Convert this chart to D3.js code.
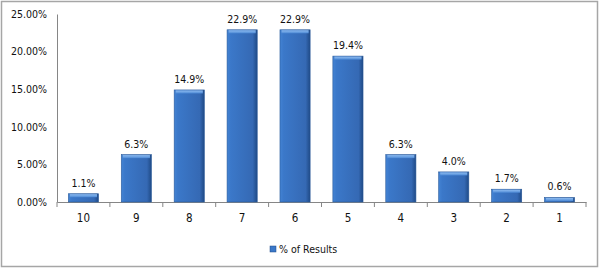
<!DOCTYPE html>
<html>
<head>
<meta charset="utf-8">
<script src="https://cdn.jsdelivr.net/npm/d3@7"></script>
<style>
  body { margin: 0; background: #fff; }
  text { font-family: "DejaVu Sans Condensed", "DejaVu Sans", sans-serif; fill: #111; }
</style>
</head>
<body>
<div id="chart"></div>
<script>
// Data
var categories = ["10", "9", "8", "7", "6", "5", "4", "3", "2", "1"];
var results = [1.1, 6.3, 14.9, 22.9, 22.9, 19.4, 6.3, 4.0, 1.7, 0.6];
var yTicks = [0, 5, 10, 15, 20, 25];
var seriesName = "% of Results";

var svgWidth = 600;
var svgHeight = 269;
var margin = { top: 14, right: 14, bottom: 67, left: 57 };
var chartWidth = svgWidth - margin.left - margin.right;
var chartHeight = svgHeight - margin.top - margin.bottom;

var svg = d3.select("#chart").append("svg")
  .attr("width", svgWidth)
  .attr("height", svgHeight);

// outer frame
svg.append("rect")
  .attr("x", 1.5).attr("y", 1.5)
  .attr("width", svgWidth - 4).attr("height", svgHeight - 4)
  .attr("fill", "none").attr("stroke", "#a6a6a6").attr("stroke-width", 1.5);

var defs = svg.append("defs");
var grad = defs.append("linearGradient").attr("id", "barGrad")
  .attr("x1", "0").attr("x2", "1").attr("y1", "0").attr("y2", "0");
grad.append("stop").attr("offset", "0%").attr("stop-color", "#4383d3");
grad.append("stop").attr("offset", "12%").attr("stop-color", "#3b78c9");
grad.append("stop").attr("offset", "85%").attr("stop-color", "#3569b4");
grad.append("stop").attr("offset", "100%").attr("stop-color", "#1f4a86");

var topGrad = defs.append("linearGradient").attr("id", "topGrad")
  .attr("x1", "0").attr("x2", "0").attr("y1", "0").attr("y2", "1");
topGrad.append("stop").attr("offset", "0%").attr("stop-color", "#8fbcf0");
topGrad.append("stop").attr("offset", "100%").attr("stop-color", "#4d8ad6");

var chartGroup = svg.append("g")
  .attr("transform", `translate(${margin.left}, ${margin.top})`);

var xScale = d3.scaleBand()
  .domain(categories)
  .range([0, chartWidth])
  .paddingInner(0.43)
  .paddingOuter(0.215);

var yScale = d3.scaleLinear()
  .domain([0, 25])
  .range([chartHeight, 0]);

// y axis
var yAxis = chartGroup.append("g")
  .call(d3.axisLeft(yScale).tickValues(yTicks).tickSize(0).tickPadding(10)
    .tickFormat(d => d.toFixed(2) + "%"));
yAxis.select(".domain").attr("stroke", "#868686");
yAxis.selectAll("text").attr("font-size", "10.5px");

// x axis
var xAxis = chartGroup.append("g")
  .attr("transform", `translate(0, ${chartHeight})`)
  .call(d3.axisBottom(xScale).tickSize(0).tickPadding(12));
xAxis.select(".domain").attr("stroke", "#868686");
xAxis.selectAll("text").attr("font-size", "11.5px");

// tick marks between categories
var step = xScale.step();
chartGroup.append("g").selectAll("line")
  .data(d3.range(categories.length + 1))
  .enter().append("line")
  .attr("x1", d => d * step).attr("x2", d => d * step)
  .attr("y1", chartHeight).attr("y2", chartHeight + 5)
  .attr("stroke", "#868686");

// bars
var bars = chartGroup.selectAll(".bar")
  .data(results)
  .enter().append("g")
  .attr("class", "bar");

bars.append("rect")
  .attr("x", (d, i) => xScale(categories[i]))
  .attr("y", d => yScale(d))
  .attr("width", xScale.bandwidth())
  .attr("height", d => chartHeight - yScale(d))
  .attr("fill", "url(#barGrad)")
  .attr("stroke", "#2a5a9a")
  .attr("stroke-width", 0.6);

bars.append("rect")
  .attr("x", (d, i) => xScale(categories[i]) + 1.5)
  .attr("y", d => yScale(d) + 0.5)
  .attr("width", xScale.bandwidth() - 3)
  .attr("height", d => Math.min(3, chartHeight - yScale(d) - 1))
  .attr("fill", "url(#topGrad)");

// value labels
chartGroup.selectAll(".label")
  .data(results)
  .enter().append("text")
  .attr("class", "label")
  .attr("x", (d, i) => xScale(categories[i]) + xScale.bandwidth() / 2)
  .attr("y", d => yScale(d) - 7)
  .attr("text-anchor", "middle")
  .attr("font-size", "10.5px")
  .text(d => d.toFixed(1) + "%");

// legend
var legend = svg.append("g").attr("transform", "translate(270, 246)");
legend.append("rect")
  .attr("width", 6).attr("height", 6)
  .attr("fill", "#3b78c9").attr("stroke", "#1f4a86").attr("stroke-width", 0.5);
legend.append("text")
  .attr("x", 9).attr("y", 7)
  .attr("font-size", "10.5px")
  .text(seriesName);
</script>
</body>
</html>
